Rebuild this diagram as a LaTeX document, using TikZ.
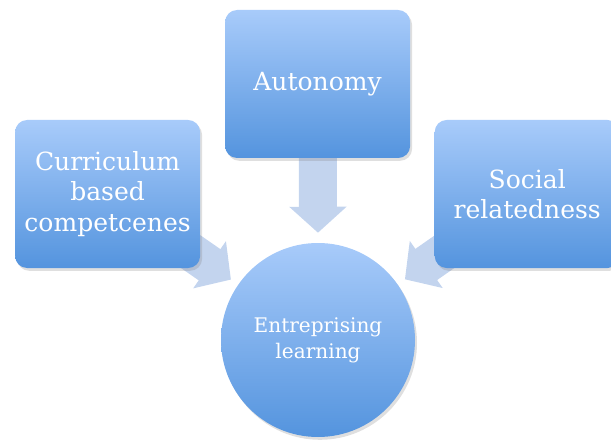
\documentclass[tikz,border=0pt]{standalone}
\usepackage{fontspec}
\setmainfont{DejaVu Serif}
\usetikzlibrary{arrows.meta,shadows,backgrounds}

\definecolor{boxtop}{RGB}{168,203,250}
\definecolor{boxbot}{RGB}{84,148,222}
\definecolor{arrowfill}{RGB}{195,212,238}

\tikzset{
	outcome/.style={rounded corners=0.3cm, minimum width=4.625cm, minimum height=3.7cm,
		top color=boxtop, bottom color=boxbot, text=white, align=center,
		font=\fontsize{17.8}{21.5}\selectfont,
		drop shadow={shadow xshift=0.05cm, shadow yshift=-0.07cm, opacity=0.25}},
	goal/.style={circle, minimum size=4.85cm, top color=boxtop, bottom color=boxbot,
		text=white, align=center, font=\fontsize{14.3}{18.5}\selectfont,
		drop shadow={shadow xshift=0.05cm, shadow yshift=-0.07cm, opacity=0.25}},
	feed/.style={draw=arrowfill, line width=0.95cm,
		-{Triangle[width=1.4cm, length=0.65cm, fill=arrowfill]}}
}

\begin{document}
\begin{tikzpicture}
	\useasboundingbox (0,0) rectangle (15.275,11.05);

	\node[outcome] (auto) at (7.94, 8.95) {Autonomy};
	\node[outcome] (curr) at (2.69, 6.2) {Curriculum\\based\\competcenes};
	\node[outcome] (soc) at (13.18, 6.2) {Social\\relatedness};
	\node[goal] (learn) at (7.95, 2.55) {Entreprising\\learning};

	\begin{scope}[on background layer]
		\draw[feed, shorten >=0.25cm] (auto.center) -- (learn.north);
		\draw[feed, shorten >=2.65cm] (curr.center) -- (learn.center);
		\draw[feed, shorten >=2.65cm] (soc.center) -- (learn.center);
	\end{scope}

\end{tikzpicture}
\end{document}
